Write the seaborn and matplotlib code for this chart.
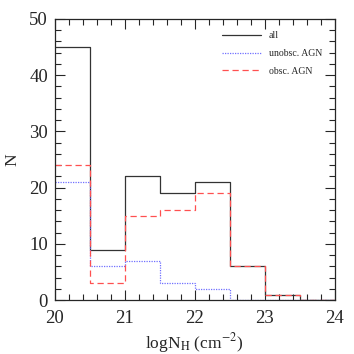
import numpy as np
import pandas as pd
import matplotlib
matplotlib.use("Agg")
import matplotlib.pyplot as plt
import seaborn as sns
from matplotlib.ticker import MultipleLocator

edges = [20.0, 20.5, 21.0, 21.5, 22.0, 22.5, 23.0, 23.5, 24.0]
all_counts = [45, 9, 22, 19, 21, 6, 1, 0]
unobs_counts = [21, 6, 7, 3, 2, 0, 0, 0]
obs_counts = [24, 3, 15, 16, 19, 6, 1, 0]

sns.set_style("ticks")
plt.rcParams["font.family"] = ["Liberation Serif", "DejaVu Serif"]
plt.rcParams["mathtext.fontset"] = "stix"

centers = [(a + b) / 2 for a, b in zip(edges[:-1], edges[1:])]

fig = plt.figure(figsize=(3.54, 3.54), dpi=100)
ax = fig.add_axes([0.155, 0.152, 0.79, 0.795])

series = [
    ("all", all_counts, dict(color="#333333", linestyle="-", linewidth=0.9)),
    ("unobsc. AGN", unobs_counts, dict(color="#7070ff", linestyle=(0, (1, 1)), linewidth=0.9)),
    ("obsc. AGN", obs_counts, dict(color="#ff5050", linestyle=(0, (5, 3)), linewidth=0.9)),
]
for label, counts, style in series:
    df = pd.DataFrame({"x": centers, "w": counts})
    sns.histplot(data=df, x="x", weights="w", bins=edges, element="step",
                 fill=False, ax=ax, label=label, **style)

ax.set_xlim(20, 24)
ax.set_ylim(0, 50)
ax.xaxis.set_major_locator(MultipleLocator(1))
ax.xaxis.set_minor_locator(MultipleLocator(0.2))
ax.yaxis.set_major_locator(MultipleLocator(10))
ax.yaxis.set_minor_locator(MultipleLocator(2))
ax.tick_params(which="both", direction="in", top=True, right=True, labelsize=13.5, width=0.8)
ax.tick_params(which="major", length=7)
ax.tick_params(which="minor", length=4)
ax.tick_params(axis="x", which="major", pad=7)
ax.tick_params(axis="y", which="major", pad=5)
for s in ax.spines.values():
    s.set_linewidth(0.9)
ax.set_xlabel(r"logN$_{\rm H}$ (cm$^{-2}$)", fontsize=12.5, labelpad=3)
ax.set_ylabel("N", fontsize=12.5, labelpad=6)

leg = ax.legend(loc="upper right", frameon=False, fontsize=7, handlelength=4.0,
                labelspacing=0.9, borderaxespad=0.9, handletextpad=0.8)

fig.savefig("out.png", dpi=100)
